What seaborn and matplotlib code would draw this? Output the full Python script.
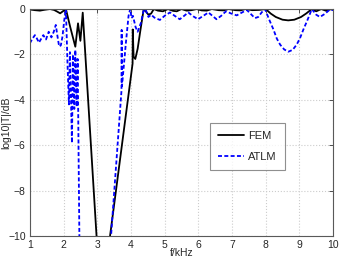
import numpy as np
import pandas as pd
import matplotlib
matplotlib.use("Agg")
import matplotlib.pyplot as plt
import seaborn as sns

# FEM curve (f in kHz, log10|T| in dB)
fem_f = [1.0, 1.15, 1.3, 1.45, 1.6, 1.72, 1.82, 1.9, 1.98, 2.07,
         2.2, 2.35, 2.43, 2.5, 2.57, 2.98, 3.1, 3.38, 4.05, 4.055,
         4.08, 4.13, 4.2, 4.28, 4.38, 4.45, 4.52, 4.6, 4.68, 4.8,
         4.95, 5.1, 5.25, 5.36, 5.5, 5.65, 5.8, 5.95, 6.1, 6.25,
         6.4, 6.6, 6.75, 6.9, 7.1, 7.25, 7.4, 7.6, 7.8, 8.0,
         8.15, 8.3, 8.5, 8.67, 8.85, 9.05, 9.2, 9.37, 9.5, 9.65,
         9.8, 9.9, 10.0]
fem_v = [-0.02, -0.05, -0.07, -0.03, 0.0, -0.04, -0.12, -0.19, -0.1, 0.0,
         -0.8, -1.66, -0.63, -1.4, -0.16, -10.0, -13.0, -10.0, -2.4, -0.9,
         -2.1, -2.2, -1.75, -0.95, 0.0, -0.12, -0.25, -0.2, 0.0, -0.07,
         -0.1, 0.0, -0.08, -0.1, 0.0, -0.07, -0.05, 0.0, -0.06, -0.07,
         0.0, -0.05, -0.06, 0.0, -0.05, -0.06, 0.0, -0.05, -0.04, 0.0,
         -0.2, -0.35, -0.47, -0.5, -0.47, -0.35, -0.2, 0.0, -0.1, 0.0,
         -0.08, -0.02, 0.0]

# ATLM curve
atlm_f = [1.0, 1.08, 1.15, 1.21, 1.27, 1.34, 1.4, 1.48, 1.56, 1.64,
          1.71, 1.77, 1.82, 1.87, 1.92, 1.97, 2.02, 2.07, 2.12, 2.16,
          2.19, 2.25, 2.28, 2.32, 2.35, 2.39, 2.42, 2.47, 2.95, 3.41,
          3.72, 3.725, 3.735, 3.85, 3.93, 3.98, 4.02, 4.06, 4.14, 4.2,
          4.3, 4.37, 4.43, 4.52, 4.6, 4.7, 4.86, 5.0, 5.16, 5.3,
          5.45, 5.58, 5.7, 5.85, 5.99, 6.15, 6.3, 6.42, 6.54, 6.68,
          6.82, 6.98, 7.14, 7.3, 7.44, 7.58, 7.68, 7.78, 7.88, 7.98,
          8.1, 8.23, 8.33, 8.43, 8.55, 8.67, 8.8, 8.92, 9.02, 9.12,
          9.25, 9.37, 9.5, 9.61, 9.75, 9.9, 10.0]
atlm_v = [-1.51, -1.3, -1.15, -1.3, -1.48, -1.3, -1.15, -1.34, -1.0, -1.25,
          -1.0, -0.7, -1.2, -1.65, -1.6, -1.2, -0.5, 0.0, -2.5, -4.2,
          -1.9, -5.9, -2.0, -4.4, -1.8, -4.3, -2.2, -10.0, -20.0, -10.0,
          -3.6, -0.92, -3.4, -1.5, -0.3, 0.0, -0.4, -0.3, -0.8, -1.0,
          -0.6, -0.1, 0.0, -0.35, -0.25, -0.38, -0.48, -0.3, -0.15, -0.3,
          -0.45, -0.3, -0.15, -0.32, -0.45, -0.3, -0.15, -0.3, -0.45, -0.3,
          -0.1, -0.2, -0.28, -0.15, -0.04, -0.25, -0.4, -0.35, -0.15, 0.0,
          -0.45, -0.9, -1.3, -1.57, -1.78, -1.88, -1.8, -1.57, -1.28, -0.9,
          -0.45, 0.0, -0.25, -0.35, -0.22, -0.03, -0.05]

sns.set_style("white")
plt.rcParams['font.family'] = ['Liberation Sans', 'DejaVu Sans']

fig, ax = plt.subplots(figsize=(3.43, 2.58), dpi=100)
fig.subplots_adjust(left=0.087, right=0.971, bottom=0.085, top=0.965)

sns.lineplot(x=fem_f, y=fem_v, ax=ax, estimator=None, sort=False,
             color='black', lw=1.3, label='FEM')
sns.lineplot(x=atlm_f, y=atlm_v, ax=ax, estimator=None, sort=False,
             color='blue', lw=1.3, label='ATLM')
ax.lines[1].set_linestyle((0, (2.2, 1.3)))

ax.set_xlim(1, 10)
ax.set_ylim(-10, 0)
ax.set_xticks(range(1, 11))
ax.set_yticks(range(-10, 1, 2))
ax.grid(True, color='0.8', linestyle=':', lw=0.8)
for s in ax.spines.values():
    s.set_color('0.35')
    s.set_linewidth(0.8)
ax.tick_params(direction='in', length=3, width=0.7, labelsize=7.5,
               top=True, right=True, pad=3, color='0.3')
ax.set_xlabel('f/kHz', fontsize=7.5)
ax.set_ylabel('log10|T|/dB', fontsize=7.5)
ax.xaxis.set_label_coords(0.5, -0.052)
ax.yaxis.set_label_coords(-0.062, 0.5)

leg = ax.legend(loc='upper left', bbox_to_anchor=(0.594, 0.5), fontsize=8,
                frameon=True, fancybox=False, labelspacing=1.0,
                borderpad=0.75, handlelength=2.3, handletextpad=0.35,
                borderaxespad=0)
leg.get_frame().set_edgecolor('0.45')
leg.get_frame().set_linewidth(0.8)

fig.savefig('out.png', dpi=100)
